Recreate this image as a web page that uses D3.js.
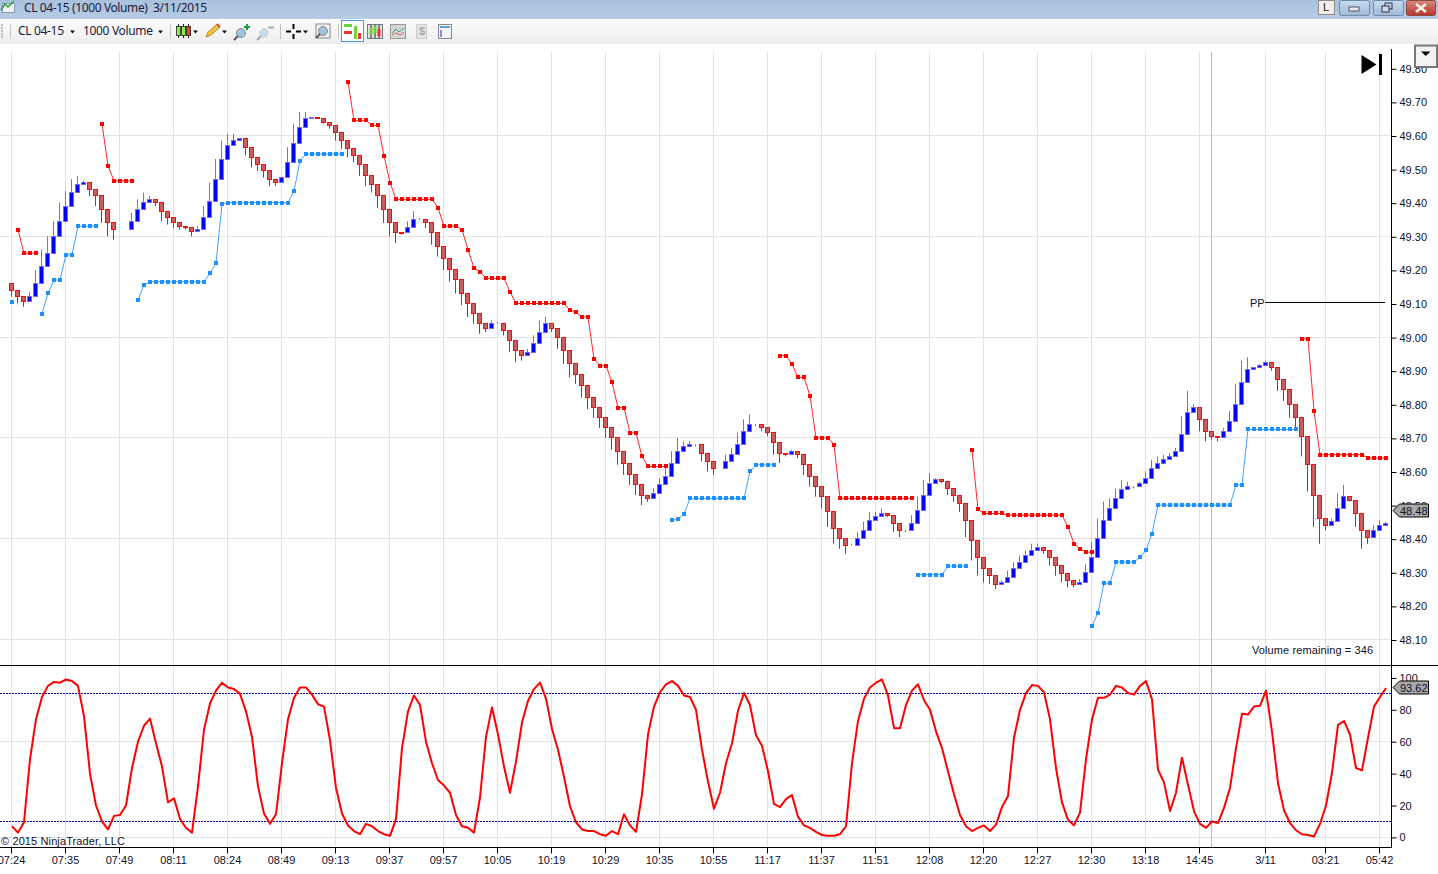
<!DOCTYPE html>
<html>
<head>
<meta charset="utf-8">
<title>CL 04-15 (1000 Volume) 3/11/2015</title>
<script src="https://cdnjs.cloudflare.com/ajax/libs/d3/7.8.5/d3.min.js"></script>
<style>
	html, body {margin: 0; padding: 0; background: #fff; overflow: hidden;}
	svg {display: block;}
	text {font-family: "Liberation Sans", Arial, sans-serif; font-size: 11px; fill: #10102a;}
	.ui {font-family: "Noto Sans", "Open Sans", sans-serif; font-size: 12px; fill: #1a1a40; white-space: pre;}
</style>
</head>
<body>
<script>
// bar data
const opens = [49.16,49.14,49.12,49.105,49.12,49.16,49.21,49.25,49.30,49.345,49.39,49.43,49.455,49.46,49.44,49.42,49.38,49.34,49.32,49.32,
	49.32,49.345,49.38,49.40,49.41,49.40,49.375,49.355,49.34,49.33,49.325,49.315,49.32,49.355,49.405,49.47,49.53,49.57,49.585,49.59,
	49.565,49.535,49.515,49.495,49.47,49.46,49.475,49.52,49.575,49.625,49.65,49.655,49.65,49.64,49.63,49.61,49.585,49.56,49.54,49.515,
	49.48,49.455,49.42,49.38,49.34,49.31,49.31,49.325,49.35,49.35,49.34,49.31,49.27,49.235,49.20,49.17,49.13,49.10,49.07,49.04,
	49.025,49.04,49.04,49.02,48.99,48.96,48.945,48.955,48.98,49.015,49.04,49.025,49.00,48.96,48.92,48.89,48.855,48.82,48.79,48.76,
	48.73,48.70,48.66,48.625,48.59,48.56,48.53,48.52,48.535,48.56,48.585,48.625,48.66,48.675,48.68,48.68,48.655,48.63,48.61,48.61,
	48.63,48.65,48.68,48.72,48.74,48.74,48.73,48.715,48.685,48.655,48.65,48.66,48.65,48.62,48.585,48.555,48.525,48.48,48.43,48.40,
	48.38,48.38,48.40,48.425,48.455,48.465,48.475,48.47,48.445,48.425,48.425,48.445,48.485,48.53,48.565,48.575,48.57,48.55,48.53,48.505,
	48.455,48.395,48.345,48.31,48.29,48.265,48.27,48.285,48.31,48.33,48.35,48.365,48.375,48.365,48.345,48.32,48.295,48.275,48.265,48.27,
	48.30,48.345,48.40,48.455,48.49,48.52,48.545,48.555,48.555,48.565,48.58,48.61,48.625,48.635,48.645,48.66,48.71,48.775,48.79,48.755,
	48.72,48.705,48.70,48.72,48.75,48.80,48.865,48.905,48.91,48.915,48.925,48.91,48.875,48.845,48.80,48.76,48.705,48.62,48.53,48.46,
	48.44,48.45,48.49,48.525,48.515,48.475,48.425,48.405,48.425,48.44];
const closes = [49.14,49.12,49.105,49.12,49.16,49.21,49.25,49.30,49.345,49.39,49.43,49.455,49.46,49.44,49.42,49.38,49.34,49.32,49.32,49.32,
	49.345,49.38,49.40,49.41,49.40,49.375,49.355,49.34,49.33,49.325,49.315,49.32,49.355,49.405,49.47,49.53,49.57,49.585,49.59,49.565,
	49.535,49.515,49.495,49.47,49.46,49.475,49.52,49.575,49.625,49.65,49.655,49.65,49.64,49.63,49.61,49.585,49.56,49.54,49.515,49.48,
	49.455,49.42,49.38,49.34,49.31,49.309,49.325,49.35,49.35,49.34,49.31,49.27,49.235,49.20,49.17,49.13,49.10,49.07,49.04,49.025,
	49.04,49.04,49.02,48.99,48.96,48.945,48.955,48.98,49.015,49.04,49.025,49.00,48.96,48.92,48.89,48.855,48.82,48.79,48.76,48.73,
	48.70,48.66,48.625,48.59,48.56,48.53,48.52,48.535,48.56,48.585,48.625,48.66,48.675,48.68,48.679,48.655,48.63,48.61,48.61,48.63,
	48.65,48.68,48.72,48.74,48.739,48.73,48.715,48.685,48.655,48.65,48.66,48.65,48.62,48.585,48.555,48.525,48.48,48.43,48.40,48.38,
	48.38,48.40,48.425,48.455,48.465,48.475,48.47,48.445,48.425,48.424,48.445,48.485,48.53,48.565,48.575,48.57,48.55,48.53,48.505,48.455,
	48.395,48.345,48.31,48.29,48.265,48.27,48.285,48.31,48.33,48.35,48.365,48.375,48.365,48.345,48.32,48.295,48.275,48.265,48.27,48.30,
	48.345,48.40,48.455,48.49,48.52,48.545,48.555,48.554,48.565,48.58,48.61,48.625,48.635,48.645,48.66,48.71,48.775,48.79,48.755,48.72,
	48.705,48.70,48.72,48.75,48.80,48.865,48.905,48.91,48.915,48.925,48.91,48.875,48.845,48.80,48.76,48.705,48.62,48.53,48.46,48.44,
	48.45,48.49,48.525,48.515,48.475,48.425,48.405,48.425,48.44,48.445];
const highs = [49.16,49.14,49.12,49.135,49.20,49.26,49.30,49.345,49.40,49.435,49.47,49.48,49.465,49.46,49.44,49.42,49.38,49.34,49.32,49.32,
	49.37,49.41,49.43,49.42,49.41,49.40,49.375,49.355,49.34,49.33,49.325,49.33,49.39,49.46,49.53,49.585,49.605,49.605,49.59,49.59,
	49.565,49.535,49.515,49.495,49.47,49.475,49.565,49.635,49.67,49.67,49.655,49.655,49.65,49.64,49.63,49.61,49.585,49.56,49.54,49.515,
	49.48,49.455,49.42,49.38,49.34,49.31,49.345,49.375,49.355,49.35,49.34,49.31,49.27,49.235,49.20,49.17,49.13,49.10,49.07,49.04,
	49.05,49.045,49.04,49.02,48.99,48.96,48.965,49.005,49.05,49.06,49.04,49.025,49.00,48.96,48.92,48.89,48.855,48.82,48.79,48.76,
	48.73,48.70,48.66,48.625,48.59,48.56,48.53,48.55,48.58,48.615,48.66,48.70,48.69,48.69,48.68,48.68,48.655,48.63,48.61,48.65,
	48.67,48.715,48.755,48.77,48.74,48.74,48.73,48.715,48.685,48.655,48.665,48.66,48.65,48.62,48.585,48.555,48.525,48.48,48.43,48.40,
	48.385,48.42,48.45,48.48,48.48,48.49,48.475,48.47,48.445,48.425,48.47,48.525,48.575,48.595,48.58,48.575,48.57,48.55,48.53,48.505,
	48.455,48.395,48.345,48.31,48.29,48.275,48.305,48.33,48.35,48.365,48.385,48.385,48.375,48.365,48.345,48.32,48.295,48.275,48.28,48.325,
	48.39,48.46,48.51,48.52,48.55,48.575,48.57,48.555,48.57,48.60,48.635,48.645,48.65,48.655,48.67,48.765,48.84,48.80,48.79,48.755,
	48.72,48.705,48.73,48.78,48.86,48.93,48.94,48.91,48.92,48.93,48.925,48.91,48.875,48.845,48.80,48.76,48.705,48.62,48.53,48.46,
	48.46,48.535,48.56,48.525,48.515,48.475,48.425,48.44,48.455,48.45];
const lows = [49.12,49.10,49.09,49.105,49.12,49.16,49.21,49.25,49.30,49.345,49.39,49.43,49.455,49.42,49.39,49.34,49.30,49.29,49.32,49.32,
	49.32,49.345,49.38,49.40,49.39,49.345,49.335,49.325,49.32,49.32,49.30,49.315,49.32,49.355,49.405,49.47,49.53,49.57,49.585,49.54,
	49.505,49.495,49.475,49.45,49.45,49.46,49.475,49.52,49.575,49.625,49.65,49.65,49.635,49.62,49.585,49.56,49.535,49.52,49.48,49.45,
	49.43,49.385,49.34,49.30,49.28,49.305,49.31,49.325,49.35,49.325,49.275,49.24,49.20,49.165,49.13,49.095,49.06,49.04,49.01,49.015,
	49.025,49.04,49.005,48.955,48.925,48.93,48.945,48.955,48.98,49.015,49.015,48.965,48.92,48.88,48.86,48.82,48.785,48.76,48.73,48.70,
	48.665,48.62,48.59,48.56,48.53,48.50,48.51,48.52,48.535,48.56,48.585,48.625,48.66,48.675,48.675,48.63,48.60,48.59,48.61,48.61,
	48.63,48.65,48.68,48.72,48.735,48.72,48.705,48.65,48.625,48.645,48.65,48.64,48.59,48.555,48.525,48.49,48.435,48.385,48.37,48.355,
	48.38,48.38,48.40,48.425,48.455,48.465,48.465,48.42,48.405,48.42,48.425,48.445,48.485,48.53,48.565,48.565,48.53,48.51,48.48,48.405,
	48.335,48.29,48.27,48.265,48.25,48.265,48.27,48.285,48.31,48.33,48.35,48.365,48.355,48.32,48.29,48.27,48.255,48.255,48.265,48.27,
	48.30,48.345,48.40,48.455,48.49,48.52,48.545,48.55,48.555,48.565,48.58,48.61,48.625,48.635,48.645,48.66,48.71,48.775,48.72,48.69,
	48.695,48.69,48.70,48.72,48.75,48.80,48.865,48.905,48.91,48.915,48.90,48.84,48.81,48.76,48.72,48.645,48.54,48.435,48.385,48.425,
	48.44,48.45,48.49,48.51,48.435,48.37,48.385,48.405,48.425,48.44];

// stop dots, each run starts at the bar named in the *Starts array
const redStarts = [1, 15, 56, 128, 160, 215];
const redRuns = [
	[49.32,49.25,49.25,49.25],
	[49.635,49.51,49.465,49.465,49.465,49.465],
	[49.76,49.645,49.645,49.645,49.63,49.63,49.54,49.46,49.41,49.41,49.41,49.41,49.41,49.41,49.41,49.385,49.33,49.33,49.33,49.32,49.26,49.205,49.195,
		49.175,49.175,49.175,49.175,49.135,49.10,49.10,49.10,49.10,49.10,49.10,49.10,49.10,49.10,49.08,49.075,49.06,49.06,48.935,48.915,48.915,48.865,
		48.79,48.79,48.715,48.715,48.645,48.615,48.615,48.615,48.615],
	[48.945,48.945,48.92,48.88,48.88,48.825,48.70,48.70,48.70,48.68,48.52,48.52,48.52,48.52,48.52,48.52,48.52,48.52,48.52,48.52,48.52,48.52,48.52],
	[48.665,48.487,48.475,48.475,48.475,48.475,48.47,48.47,48.47,48.47,48.47,48.47,48.47,48.47,48.47,48.47,48.435,48.385,48.37,48.36,48.36],
	[48.995,48.995,48.78,48.65,48.65,48.65,48.65,48.65,48.65,48.65,48.65,48.64,48.64,48.64,48.64]
];
const blueStarts = [0, 5, 21, 110, 151, 180];
const blueRuns = [
	[49.105],
	[49.07,49.13,49.17,49.17,49.245,49.245,49.33,49.33,49.33,49.33],
	[49.11,49.155,49.165,49.165,49.165,49.165,49.165,49.165,49.165,49.165,49.165,49.165,49.19,49.22,49.395,49.40,49.40,49.40,49.40,49.40,49.40,49.40,49.40,49.40,49.40,49.40,
		49.435,49.525,49.545,49.545,49.545,49.545,49.545,49.545,49.545],
	[48.455,48.458,48.473,48.52,48.52,48.52,48.52,48.52,48.52,48.52,48.52,48.52,48.52,48.60,48.62,48.62,48.62,48.62],
	[48.293,48.293,48.293,48.293,48.293,48.318,48.318,48.318,48.318],
	[48.14,48.18,48.268,48.268,48.33,48.33,48.33,48.33,48.345,48.365,48.415,48.50,48.50,48.50,48.50,48.50,48.50,48.50,48.50,48.50,48.50,48.50,48.50,48.50,48.56,48.56,
		48.725,48.725,48.725,48.725,48.725,48.725,48.725,48.725,48.725]
];

// lower panel oscillator
const stoch = [7,3,9.5,49,74,88,95,97.5,97,99,98,95,76,40,20,10,5,13.5,14,20,
	43.5,60,70,74.5,59,44.5,22,24.5,11.5,6,3,32,67.5,84,92,97,94,93,90,79,
	63,32,15,8.5,14.5,46.5,74,87.5,94,94,89.5,83.5,82,61,31,15,7.5,4,2,8.5,
	7,4,2,1,11.5,56,79,89,83,60,46.5,36,32.5,28,14,7,6,3,25,63,
	81.5,64.5,44.5,28,47.5,72,85.5,93,97,87,68,55,38,19.5,9.5,5,4,4,2,1,
	4,2,14.5,7.5,3.5,27,64.5,82,91,96,98,95,89,88,80,55,35,18,28,46.5,
	59,79.5,90.5,83,64,57.5,41.5,21,19,24,26.5,13,7.5,6,3.5,1.5,1,1,2,7,
	46.5,73,87,94,97,99,89,68.5,68.5,83,92,96,86,80,66.5,56,41.5,27,14,7,
	4,6,7.5,4,8,19,26,62.5,80,90.5,95.5,95,91,74,43.5,22,11,7.5,15.5,49,
	74,87.5,87.5,89.5,95,94,90.5,89.5,95,98,86.5,42.5,34.5,16.5,28,50,33,16.5,8.5,6,
	10,9,18.5,31,56,77.5,77,82,82.5,92,66.5,34,17,9,4.5,2,1.5,0.6,8.5,20,
	40.5,70.5,73,64.5,43.5,42,62.5,82,88,93.62];

const priceTicks = [48.10,48.20,48.30,48.40,48.50,48.60,48.70,48.80,48.90,49.00,49.10,49.20,49.30,49.40,49.50,49.60,49.70,49.80];
const priceGrid = [48.10,48.40,48.70,49.00,49.30,49.60];
const stochTicks = [0,20,40,60,80,100];
const stochGrid = [0,60];
const stochLevels = [10,90];
const timeBars = [0,9,18,27,36,45,54,63,72,81,90,99,108,117,126,135,144,153,162,171,180,189,198,209,219,228];
const timeLabels = ['07:24','07:35','07:49','08:11','08:24','08:49','09:13','09:37','09:57','10:05','10:19','10:29','10:35','10:55','11:17','11:37','11:51','12:08','12:20','12:27','12:30','13:18','14:45','3/11','03:21','05:42'];
const sessionBreakBar = 200;
const pivotPrice = 49.103;
const lastPrice = 48.48;

const W = 1438;
const H = 874;
const plotRight = 1391.5;
const gridTop = 52;
const axisBottom = 847.5;
const divider = 665.5;

const svg = d3.select('body').append('svg').attr('width', W).attr('height', H);

const gradient = (id, stops) => {
	const g = svg.append('linearGradient').attr('id', id).attr('x1', 0).attr('x2', 0).attr('y1', 0).attr('y2', 1);
	stops.forEach((c, i) => g.append('stop').attr('offset', i / (stops.length - 1)).attr('stop-color', c));
};
gradient('titleBar', ['#a9c1dc', '#b6cce3']);
gradient('toolBar', ['#fbfbfb', '#eeeeee']);
gradient('winBtn', ['#c9dcf0', '#9db8d6']);
gradient('closeBtn', ['#d98a7c', '#b8352a']);

const x = d3.scaleLinear().domain([0, 229]).range([11.5, 1385.5]);
const y = d3.scaleLinear().domain([48.10, 49.80]).range([639.5, 68.3]);
const yS = d3.scaleLinear().domain([0, 100]).range([837.4, 677.9]);
const snap = v => Math.round(v - 0.5) + 0.5;
const snapDown = v => Math.floor(v) + 0.5;

svg.append('rect').attr('width', W).attr('height', H).attr('fill', '#fff');

// grid
const grid = svg.append('g').attr('stroke', '#e2e2e2').attr('stroke-width', 1);
grid.selectAll('line.v').data(timeBars).enter().append('line')
	.attr('x1', d => x(d)).attr('x2', d => x(d)).attr('y1', gridTop).attr('y2', axisBottom);
grid.selectAll('line.p').data(priceGrid).enter().append('line')
	.attr('x1', 0).attr('x2', plotRight).attr('y1', d => snap(y(d))).attr('y2', d => snap(y(d)));
grid.selectAll('line.s').data(stochGrid).enter().append('line')
	.attr('x1', 0).attr('x2', plotRight).attr('y1', d => snapDown(yS(d))).attr('y2', d => snapDown(yS(d)));
svg.append('line').attr('x1', x(sessionBreakBar)).attr('x2', x(sessionBreakBar)).attr('y1', gridTop).attr('y2', axisBottom)
	.attr('stroke', '#bdbdbd');

// candles
const isUp = i => closes[i] >= opens[i];
const bars = svg.append('g').selectAll('g').data(d3.range(closes.length)).enter().append('g');
bars.append('line')
	.attr('x1', i => x(i)).attr('x2', i => x(i))
	.attr('y1', i => y(highs[i])).attr('y2', i => y(lows[i]))
	.attr('stroke', i => (isUp(i) ? '#7b68ee' : '#ee1111'));
bars.append('rect')
	.attr('x', i => x(i) - 2)
	.attr('width', 4)
	.attr('y', i => snap(y(Math.max(opens[i], closes[i]))))
	.attr('height', i => snap(y(Math.min(opens[i], closes[i]))) - snap(y(Math.max(opens[i], closes[i]))))
	.attr('fill', i => (isUp(i) ? '#0000ff' : '#cd5c5c'))
	.attr('stroke', i => (isUp(i) ? '#7b68ee' : '#ee1111'));

// stop dots and their connecting lines
const drawRuns = (starts, runs, color) => {
	const g = svg.append('g');
	const path = d3.line().x(d => x(d.i) + 0.5).y(d => y(d.v));
	runs.forEach((run, r) => {
		const pts = run.map((v, k) => ({i: starts[r] + k, v}));
		g.append('path').attr('d', path(pts)).attr('fill', 'none').attr('stroke', color).attr('stroke-width', 1).attr('stroke-opacity', 0.85);
		g.selectAll(null).data(pts).enter().append('rect')
			.attr('x', d => x(d.i) - 1.5)
			.attr('y', d => Math.round(y(d.v)) - 2)
			.attr('width', 4).attr('height', 4).attr('fill', color);
	});
};
drawRuns(redStarts, redRuns, '#ff0000');
drawRuns(blueStarts, blueRuns, '#1e90ff');

// pivot line
svg.append('line').attr('x1', 1265).attr('x2', 1385).attr('y1', snap(y(pivotPrice))).attr('y2', snap(y(pivotPrice))).attr('stroke', '#000');
svg.append('text').attr('x', 1250).attr('y', snap(y(pivotPrice)) + 4.5).text('PP');
svg.append('text').attr('x', 1252).attr('y', 654).attr('textLength', 121).text('Volume remaining = 346');

// oscillator
svg.append('g').selectAll('line').data(stochLevels).enter().append('line')
	.attr('x1', 0).attr('x2', plotRight).attr('y1', d => snapDown(yS(d))).attr('y2', d => snapDown(yS(d)))
	.attr('stroke', '#0000a8').attr('stroke-dasharray', '2,1');
svg.append('path')
	.attr('d', d3.line().x((d, i) => x(i) + 0.5).y(d => yS(d))(stoch))
	.attr('fill', 'none').attr('stroke', '#ff0000').attr('stroke-width', 2).attr('stroke-linejoin', 'round');

svg.append('text').attr('x', 1).attr('y', 845).attr('textLength', 124).text('© 2015 NinjaTrader, LLC');

// axes
const styleAxis = g => {
	g.selectAll('line').attr('stroke', '#000');
	g.selectAll('text').attr('fill', null);
	g.select('.domain').remove();
};
svg.append('g').attr('transform', `translate(${plotRight},0)`)
	.call(d3.axisRight(y).tickValues(priceTicks).tickFormat(d3.format('.2f')).tickSize(5).tickSizeOuter(0).tickPadding(3).offset(1))
	.call(styleAxis);
svg.append('g').attr('transform', `translate(${plotRight},0)`)
	.call(d3.axisRight(yS).tickValues(stochTicks).tickSize(5).tickSizeOuter(0).tickPadding(3))
	.call(styleAxis);
svg.append('g').attr('transform', `translate(0,${axisBottom})`)
	.call(d3.axisBottom(x).tickValues(timeBars).tickFormat((d, i) => timeLabels[i]).tickSize(6).tickSizeOuter(0).tickPadding(3).offset(0))
	.call(styleAxis);
svg.selectAll('.tick text').style('font-size', '11px');

svg.append('line').attr('x1', plotRight).attr('x2', plotRight).attr('y1', 49).attr('y2', axisBottom).attr('stroke', '#000');
svg.append('line').attr('x1', 0).attr('x2', plotRight).attr('y1', axisBottom).attr('y2', axisBottom).attr('stroke', '#000');
svg.append('line').attr('x1', 0).attr('x2', W).attr('y1', divider).attr('y2', divider).attr('stroke', '#000');

// last value tags
const tag = (cy, label) => {
	const g = svg.append('g').attr('transform', `translate(1393,${Math.floor(cy) - 0.5})`);
	g.append('path').attr('d', 'M0,0 L6.5,-6.5 L35.5,-6.5 L35.5,6.5 L6.5,6.5 Z').attr('fill', '#a9a9a9').attr('stroke', '#000');
	g.append('text').attr('x', 7).attr('y', 4).text(label);
};
tag(y(lastPrice), lastPrice.toFixed(2));
tag(yS(stoch[stoch.length - 1]), stoch[stoch.length - 1].toFixed(2));

// window chrome
svg.append('rect').attr('width', W).attr('height', 19).attr('fill', 'url(#titleBar)');
svg.append('rect').attr('y', 19).attr('width', W).attr('height', 25).attr('fill', 'url(#toolBar)');
svg.append('text').attr('class', 'ui').attr('x', 24).attr('y', 12).attr('textLength', 183).text('CL 04-15 (1000 Volume)  3/11/2015');
svg.append('text').attr('class', 'ui').attr('x', 18).attr('y', 35).attr('textLength', 46).text('CL 04-15');
svg.append('text').attr('class', 'ui').attr('x', 83).attr('y', 35).attr('textLength', 70).text('1000 Volume');

// title bar icon
svg.append('rect').attr('x', 2.5).attr('y', 3.5).attr('width', 12).attr('height', 9).attr('fill', '#eef1f5').attr('stroke', '#8a9ab0');
svg.append('path').attr('d', 'M1,10 L5,4 L8,7 L14,1').attr('fill', 'none').attr('stroke', '#2e9a3a').attr('stroke-width', 1.4);

// toolbar separators
const seps = [10.5, 170.5, 280.5, 338.5];
svg.append('g').selectAll('line').data(seps).enter().append('line')
	.attr('x1', d => d).attr('x2', d => d).attr('y1', 24).attr('y2', 39).attr('stroke', '#c4c4c4');
svg.append('g').selectAll('rect').data([24, 27, 30, 33, 36]).enter().append('rect')
	.attr('x', 1).attr('y', d => d).attr('width', 2).attr('height', 2).attr('fill', '#bbb');

// small dropdown arrows
const arrows = [[72.5, 31.5], [160.5, 31.5], [195.5, 31.5], [224.5, 31.5], [305.5, 31.5]];
svg.append('g').selectAll('path').data(arrows).enter().append('path')
	.attr('d', d => `M${d[0] - 2.5},${d[1] - 1} h5 l-2.5,3 z`).attr('fill', '#111');

// candles button
[[178.5, '#8fe84f'], [183.5, '#8fe84f'], [188.5, '#f04030']].forEach(d => {
	svg.append('line').attr('x1', d[0]).attr('x2', d[0]).attr('y1', 24).attr('y2', 38).attr('stroke', '#222');
	svg.append('rect').attr('x', d[0] - 2).attr('y', 26.5).attr('width', 4).attr('height', 9).attr('fill', d[1]).attr('stroke', '#222').attr('stroke-width', 0.8);
});

// pencil
svg.append('path').attr('d', 'M206,37 L208,32 L217,24 L220,27 L211,35 Z').attr('fill', '#f2c335').attr('stroke', '#8a6a20').attr('stroke-width', 0.7);
svg.append('path').attr('d', 'M217,24 L220,27').attr('stroke', '#d0503c').attr('stroke-width', 2);

// magnifiers
const magnifier = (cx, cy, color, opacity) => {
	const g = svg.append('g').attr('opacity', opacity);
	g.append('circle').attr('cx', cx).attr('cy', cy).attr('r', 4.5).attr('fill', '#9fc4de').attr('stroke', color);
	g.append('line').attr('x1', cx - 3).attr('y1', cy + 3).attr('x2', cx - 7).attr('y2', cy + 7).attr('stroke', '#555').attr('stroke-width', 2);
};
magnifier(241, 33, '#8a8a8a', 1);
svg.append('path').attr('d', 'M244,27 h6 M247,24 v6').attr('stroke', '#16a035').attr('stroke-width', 2);
magnifier(264, 33, '#bbb', 0.5);
svg.append('path').attr('d', 'M268,27.5 h6').attr('stroke', '#aaa').attr('stroke-width', 2);

// crosshair
svg.append('path').attr('d', 'M286,31.5 h5 M296,31.5 h5 M293.5,24 v5 M293.5,34 v5').attr('stroke', '#000').attr('stroke-width', 2);

// zoom box
svg.append('rect').attr('x', 316).attr('y', 24).attr('width', 14).attr('height', 14).attr('fill', '#f4f4f4').attr('stroke', '#888');
magnifier(323, 31, '#888', 1);

// selected button and the other view icons
svg.append('rect').attr('x', 341.5).attr('y', 20.5).attr('width', 22).attr('height', 21).attr('fill', '#fff').attr('stroke', '#4a9ae0');
svg.append('rect').attr('x', 344).attr('y', 24).attr('width', 8).attr('height', 3).attr('fill', '#6fd23a');
svg.append('rect').attr('x', 344).attr('y', 31).attr('width', 8).attr('height', 3).attr('fill', '#e33');
svg.append('rect').attr('x', 354).attr('y', 26).attr('width', 3).attr('height', 13).attr('fill', '#6fd23a');
svg.append('rect').attr('x', 358).attr('y', 33).attr('width', 3).attr('height', 6).attr('fill', '#e33');

svg.append('rect').attr('x', 367.5).attr('y', 24.5).attr('width', 15).attr('height', 14).attr('fill', '#e4e4e4').attr('stroke', '#777');
[[371, '#6fd23a', 28], [375, '#6fd23a', 26], [379, '#e33', 29]].forEach(d => {
	svg.append('line').attr('x1', d[0]).attr('x2', d[0]).attr('y1', 25).attr('y2', 38).attr('stroke', '#222');
	svg.append('rect').attr('x', d[0] - 1.5).attr('y', d[2]).attr('width', 3).attr('height', 7).attr('fill', d[1]);
});

svg.append('rect').attr('x', 390.5).attr('y', 24.5).attr('width', 15).attr('height', 14).attr('fill', '#d6d6d6').attr('stroke', '#999');
svg.append('path').attr('d', 'M392,33 L396,29 L399,32 L404,28').attr('fill', 'none').attr('stroke', '#3ba55a');
svg.append('path').attr('d', 'M392,35 L396,33 L400,35 L404,32').attr('fill', 'none').attr('stroke', '#d66');

svg.append('rect').attr('x', 416.5).attr('y', 24.5).attr('width', 10).attr('height', 14).attr('fill', '#e4e4e4').attr('stroke', '#ccc');
svg.append('text').attr('x', 419).attr('y', 35).style('fill', '#aaa').style('font-weight', 'bold').text('$');

svg.append('rect').attr('x', 438.5).attr('y', 24.5).attr('width', 13).attr('height', 14).attr('fill', '#f4f4f4').attr('stroke', '#888');
svg.append('rect').attr('x', 440).attr('y', 26).attr('width', 10).attr('height', 2).attr('fill', '#5f9fd0');
svg.append('rect').attr('x', 440).attr('y', 30).attr('width', 2).attr('height', 7).attr('fill', '#9a7fe0');

// window buttons
svg.append('rect').attr('x', 1318.5).attr('y', 0.5).attr('width', 16).attr('height', 14).attr('fill', '#f1efe8').attr('stroke', '#8c8c8c');
svg.append('text').attr('x', 1323).attr('y', 11).style('fill', '#222').text('L');
svg.append('rect').attr('x', 1339.5).attr('y', 0.5).attr('width', 30).attr('height', 15).attr('rx', 2).attr('fill', 'url(#winBtn)').attr('stroke', '#6f8aa8');
svg.append('rect').attr('x', 1349).attr('y', 7).attr('width', 10).attr('height', 4).attr('fill', '#e8e8e8').attr('stroke', '#556');
svg.append('rect').attr('x', 1373.5).attr('y', 0.5).attr('width', 30).attr('height', 15).attr('rx', 2).attr('fill', 'url(#winBtn)').attr('stroke', '#6f8aa8');
svg.append('rect').attr('x', 1385).attr('y', 3).attr('width', 7).attr('height', 6).attr('fill', 'none').attr('stroke', '#334');
svg.append('rect').attr('x', 1382).attr('y', 6).attr('width', 7).attr('height', 6).attr('fill', '#cfdcea').attr('stroke', '#334');
svg.append('rect').attr('x', 1406.5).attr('y', 0.5).attr('width', 29).attr('height', 15).attr('rx', 2).attr('fill', 'url(#closeBtn)').attr('stroke', '#8a4a44');
svg.append('path').attr('d', 'M1416,4 L1426,12 M1426,4 L1416,12').attr('stroke', '#f4f0ee').attr('stroke-width', 2.6);

// jump-to-end marker and scale menu button
svg.append('path').attr('d', 'M1361.5,55 L1376.5,64.5 L1361.5,74 Z').attr('fill', '#000');
svg.append('rect').attr('x', 1379).attr('y', 54).attr('width', 3).attr('height', 21).attr('fill', '#000');
svg.append('rect').attr('x', 1415).attr('y', 45.5).attr('width', 22).attr('height', 21.5).attr('fill', '#f2f2f2').attr('stroke', '#777').attr('stroke-width', 2);
svg.append('path').attr('d', 'M1421,51.5 h9.5 l-4.75,4.5 z').attr('fill', '#000');
</script>
</body>
</html>
